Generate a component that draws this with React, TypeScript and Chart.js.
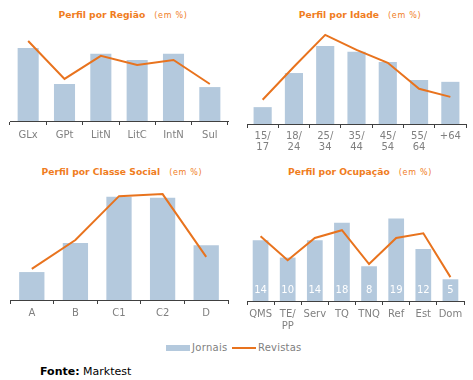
import React, { useEffect, useRef } from "react";
import { Chart, registerables } from "chart.js";

Chart.register(...registerables);

// ---- Data ----
const regiaoLabels = ["GLx", "GPt", "LitN", "LitC", "IntN", "Sul"];
const regiaoJornais = [21.5, 10.9, 19.8, 18.0, 19.8, 10.0];
const regiaoRevistas = [23.6, 12.4, 19.2, 16.5, 18.0, 10.9];

const idadeLabels = [["15/", "17"], ["18/", "24"], ["25/", "34"], ["35/", "44"], ["45/", "54"], ["55/", "64"], "+64"];
const idadeJornais = [4.6, 13.9, 21.3, 19.7, 16.9, 12.0, 11.5];
const idadeRevistas = [6.6, 15.6, 24.3, 20.2, 16.7, 9.6, 7.4];

const classeLabels = ["A", "B", "C1", "C2", "D"];
const classeJornais = [8.1, 16.5, 29.9, 29.6, 15.9];
const classeRevistas = [9.0, 17.4, 30.1, 30.7, 12.5];

const ocupLabels = ["QMS", ["TE/", "PP"], "Serv", "TQ", "TNQ", "Ref", "Est", "Dom"];
const ocupJornais = [14, 10, 14, 18, 8, 19, 12, 5];
const ocupRevistas = [14.9, 9.4, 14.5, 16.3, 8.5, 14.5, 15.6, 5.5];

const seriesNames = ["Jornais", "Revistas"];

// ---- Styles ----
const BLUE = "#B4C9DD";
const ORANGE = "#E8731E";
const TITLE_ORANGE = "#F07D1E";
const AXIS = "#404040";
const GRAY = "#808080";
const FONT = '"DejaVu Sans", Verdana, sans-serif';

type PanelProps = {
  left: number;
  top: number;
  width: number;
  height: number;
  labels: any[];
  bars: number[];
  line: number[];
  padL: number;
  padR: number;
  padT: number;
  axisH: number;
  yMax: number;
  tickPad: number;
  lineHeight: number;
  showValues?: boolean;
};

function MiniChart(p: PanelProps) {
  const ref = useRef<HTMLCanvasElement>(null);
  useEffect(() => {
    if (!ref.current) return;
    const valuePlugin = {
      id: "barValues",
      afterDatasetsDraw(chart: any) {
        if (!p.showValues) return;
        const meta = chart.getDatasetMeta(1);
        const ctx = chart.ctx;
        ctx.save();
        ctx.fillStyle = "#ffffff";
        ctx.font = `10px ${FONT}`;
        ctx.textAlign = "center";
        ctx.textBaseline = "middle";
        meta.data.forEach((el: any, i: number) => {
          ctx.fillText(String(p.bars[i]), el.x, chart.chartArea.bottom - 11);
        });
        ctx.restore();
      },
    };
    const chart = new Chart(ref.current, {
      type: "bar",
      data: {
        labels: p.labels,
        datasets: [
          {
            type: "line",
            label: seriesNames[1],
            data: p.line,
            borderColor: ORANGE,
            backgroundColor: ORANGE,
            borderWidth: 2,
            pointRadius: 0,
            fill: false,
            tension: 0,
            order: 0,
          } as any,
          {
            type: "bar",
            label: seriesNames[0],
            data: p.bars,
            backgroundColor: BLUE,
            barPercentage: 0.58,
            categoryPercentage: 1,
            order: 1,
          } as any,
        ],
      },
      options: {
        animation: false,
        responsive: false,
        devicePixelRatio: 1,
        layout: { padding: { left: p.padL, right: p.padR, top: p.padT, bottom: 0 } },
        plugins: {
          legend: { display: false },
          tooltip: { enabled: false },
          title: { display: false },
        },
        scales: {
          x: {
            grid: {
              offset: true,
              drawOnChartArea: false,
              drawTicks: true,
              tickLength: 4,
              color: AXIS,
            },
            border: { display: true, color: AXIS, width: 1 },
            ticks: {
              color: GRAY,
              font: { family: FONT, size: 10, lineHeight: p.lineHeight / 10 },
              padding: p.tickPad,
              maxRotation: 0,
              minRotation: 0,
              autoSkip: false,
            },
            afterFit: (s: any) => {
              s.height = p.axisH;
            },
          },
          y: { display: false, min: 0, max: p.yMax },
        },
      } as any,
      plugins: [valuePlugin],
    });
    return () => chart.destroy();
  }, []);
  return (
    <canvas
      ref={ref}
      width={p.width}
      height={p.height}
      style={{ position: "absolute", left: p.left, top: p.top, width: p.width, height: p.height }}
    />
  );
}

function Title({ left, width, top, text }: { left: number; width: number; top: number; text: string }) {
  return (
    <div
      style={{
        position: "absolute",
        left,
        top,
        width,
        textAlign: "center",
        lineHeight: "14px",
        whiteSpace: "nowrap",
        color: TITLE_ORANGE,
      }}
    >
      <span
        style={{
          fontFamily: FONT,
          fontWeight: "bold",
          fontSize: "9.2px",
        }}
      >
        {text}
      </span>
      <span
        style={{
          fontFamily: FONT,
          fontSize: "8px",
          letterSpacing: "0.7px",
          marginLeft: "9px",
        }}
      >
        (em %)
      </span>
    </div>
  );
}

export default function App() {
  return (
    <div style={{ position: "absolute", left: 0, top: 0, width: 473, height: 380, background: "#fff", overflow: "hidden" }}>
      <Title left={0} width={246} top={6} text="Perfil por Região" />
      <Title left={236} width={248} top={6} text="Perfil por Idade" />
      <Title left={0} width={244} top={163} text="Perfil por Classe Social" />
      <Title left={236} width={248} top={163} text="Perfil por Ocupação" />

      <MiniChart left={0} top={0} width={236} height={160} labels={regiaoLabels} bars={regiaoJornais} line={regiaoRevistas}
        padL={10} padR={8} padT={25} axisH={39} yMax={28.3} tickPad={4} lineHeight={12} />
      <MiniChart left={236} top={0} width={237} height={160} labels={idadeLabels} bars={idadeJornais} line={idadeRevistas}
        padL={11} padR={7} padT={25} axisH={36} yMax={27.0} tickPad={3} lineHeight={11} />
      <MiniChart left={0} top={160} width={236} height={175} labels={classeLabels} bars={classeJornais} line={classeRevistas}
        padL={10} padR={8} padT={22} axisH={35} yMax={34.2} tickPad={3} lineHeight={12} />
      <MiniChart left={236} top={160} width={237} height={175} labels={ocupLabels} bars={ocupJornais} line={ocupRevistas}
        padL={11} padR={9} padT={22} axisH={34} yMax={27.4} tickPad={3} lineHeight={12} showValues />

      {/* Legend */}
      <div style={{ position: "absolute", left: 166, top: 345, width: 24, height: 6, background: BLUE }} />
      <div style={{ position: "absolute", left: 192, top: 341, lineHeight: "14px", fontFamily: FONT, fontSize: "10px", color: GRAY, letterSpacing: "0.3px" }}>
        {seriesNames[0]}
      </div>
      <div style={{ position: "absolute", left: 232, top: 347, width: 24, height: 2, background: ORANGE }} />
      <div style={{ position: "absolute", left: 258, top: 341, lineHeight: "14px", fontFamily: FONT, fontSize: "10px", color: GRAY, letterSpacing: "0.2px" }}>
        {seriesNames[1]}
      </div>

      {/* Source */}
      <div style={{ position: "absolute", left: 40, top: 364, lineHeight: "16px", fontFamily: FONT, fontSize: "11px", color: "#000", whiteSpace: "nowrap" }}>
        <b>Fonte:</b> Marktest
      </div>
    </div>
  );
}
